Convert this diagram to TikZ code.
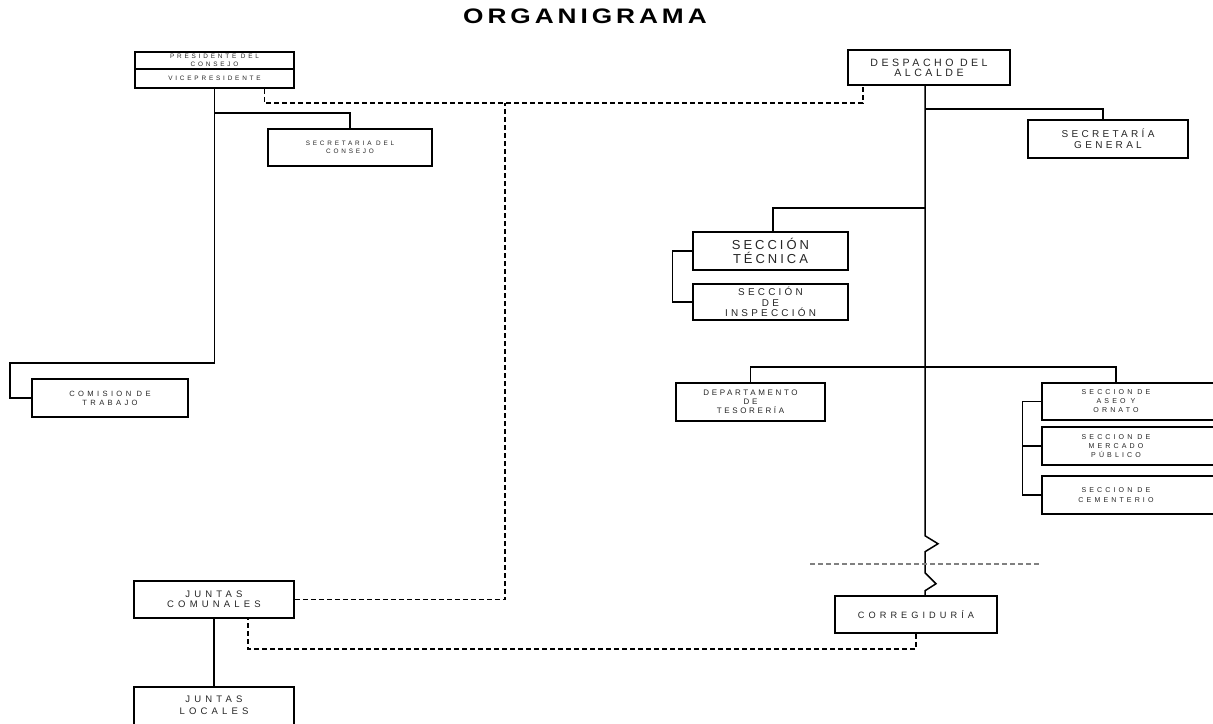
\documentclass[tikz,border=0pt]{standalone}
\usepackage{fontspec}
\usepackage{graphicx}
\newfontfamily\fT[LetterSpace=15]{Liberation Sans}
\newfontfamily\fA[LetterSpace=44]{Liberation Sans}
\newfontfamily\fB[LetterSpace=33]{Liberation Sans}
\newfontfamily\fC[LetterSpace=23]{Liberation Sans}
\tikzset{
  bx/.style={draw, line width=1.5pt, inner sep=0pt, align=center, text=black!85},
  lbl/.style={inner sep=0pt, align=center, text=black!85},
  ln/.style={line width=1.5pt},
  dsh/.style={line width=1.5pt, dash pattern=on 5pt off 3pt},
  gdsh/.style={line width=1.2pt, dash pattern=on 5pt off 3pt, black!50},
}
\begin{document}
\begin{tikzpicture}[x=1pt,y=-1pt]
\useasboundingbox (0,0) rectangle (1213,723);
\clip (0,0) rectangle (1213,723);
\fill[white] (0,0) rectangle (1213,723);

% title
\node[lbl, text=black, font=\fT\bfseries\fontsize{21}{24}\selectfont] (title) at (585,16.5) {\scalebox{1.25}[1]{ORGANIGRAMA}};

% left group
\node[bx, minimum width=159, minimum height=17, font=\fA\fontsize{6.4}{8}\selectfont] (presA) at (214.5,60.5) {PRESIDENTE DEL\\CONSEJO};
\node[bx, minimum width=159, minimum height=19, font=\fA\fontsize{6.4}{8}\selectfont] (presB) at (214.5,78.5) {VICEPRESIDENTE};
\node[bx, minimum width=164, minimum height=37, font=\fA\fontsize{6.4}{8}\selectfont] (secc) at (350,147.5) {SECRETARIA DEL\\CONSEJO};
\node[bx, minimum width=156, minimum height=38, font=\fA\fontsize{7.6}{9}\selectfont] (com) at (110,398) {COMISION DE\\TRABAJO};
\node[bx, minimum width=160, minimum height=37, font=\fA\fontsize{9.5}{10}\selectfont] (jc) at (214,599.5) {JUNTAS\\COMUNALES};
\node[bx, minimum width=160, minimum height=53] (jl) at (214,713.5) {};
\node[lbl, font=\fA\fontsize{9.5}{12}\selectfont] (jlT) at (214,705) {JUNTAS\\LOCALES};

% right group
\node[bx, minimum width=162, minimum height=35, font=\fB\fontsize{10.6}{10}\selectfont] (desp) at (929,67.5) {DESPACHO DEL\\ALCALDE};
\node[bx, minimum width=160, minimum height=38, font=\fB\fontsize{10}{11}\selectfont] (secg) at (1108,139) {SECRETARÍA\\GENERAL};
\node[bx, minimum width=155, minimum height=38, font=\fC\fontsize{13}{14}\selectfont] (tec) at (770.5,251) {SECCIÓN\\TÉCNICA};
\node[bx, minimum width=155, minimum height=36, font=\fB\fontsize{9.9}{10.5}\selectfont] (insp) at (770.5,302) {SECCIÓN\\DE\\INSPECCIÓN};
\node[bx, minimum width=149, minimum height=38, font=\fB\fontsize{8}{9}\selectfont] (tes) at (750.5,402) {DEPARTAMENTO\\DE\\TESORERÍA};
\node[bx, minimum width=183, minimum height=37] (aseo) at (1133.5,401.5) {};
\node[lbl, font=\fA\fontsize{7.06}{9}\selectfont] (aseoT) at (1116,401.5) {SECCION DE\\ASEO Y\\ORNATO};
\node[bx, minimum width=183, minimum height=38] (merc) at (1133.5,446) {};
\node[lbl, font=\fA\fontsize{7.06}{9}\selectfont] (mercT) at (1116,446) {SECCION DE\\MERCADO\\PÚBLICO};
\node[bx, minimum width=183, minimum height=38] (cem) at (1133.5,495) {};
\node[lbl, font=\fA\fontsize{7.06}{10}\selectfont] (cemT) at (1116,495) {SECCION DE\\CEMENTERIO};
\node[bx, minimum width=162, minimum height=37, font=\fA\fontsize{9.2}{10}\selectfont] (corr) at (916,614.5) {CORREGIDURÍA};

% left connectors
\coordinate (k1) at (10,363);
\draw[ln] (presB.south) |- (k1) |- (com.west);
\draw[ln] ([yshift=-24]presB.south) -| (secc.north);
\draw[ln] (jc.south) -- (jl.north);

% dashed connectors
\coordinate (dA) at (505,103);
\draw[dsh] ([xshift=50]presB.south) |- (dA) -| ([xshift=-66]desp.south);
\draw[dsh] (jc.east) -| (dA);
\draw[dsh] (corr.south) -- ++(0,15) -| ([xshift=34]jc.south);

% main line of the mayor's office
\coordinate (m0) at ([xshift=-4]desp.south);
\draw[ln] (m0) -- ++(0,450) -- ++(13,8) -- ++(-13,8) -- ++(0,21) -- ++(11,11) -- ++(-11,7) -- ([xshift=9]corr.north);
\draw[ln] ([yshift=-23]m0) -| ([xshift=-5]secg.north);
\draw[ln] ([yshift=-122]m0) -| ([xshift=2.5]tec.north);
\draw[ln] (tec.west) -- ++(-20,0) |- (insp.west);
\draw[ln] (tes.north) |- ([yshift=-281]m0) -| (aseoT |- aseo.north);
\draw[ln] (aseo.west) -- ++(-19,0) |- (cem.west);
\draw[ln] (merc.west) -- ++(-19,0);

% boundary line
\coordinate (g1) at (810,564);
\coordinate (g2) at (1040,564);
\draw[gdsh] (g1) -- (g2);
\end{tikzpicture}
\end{document}
